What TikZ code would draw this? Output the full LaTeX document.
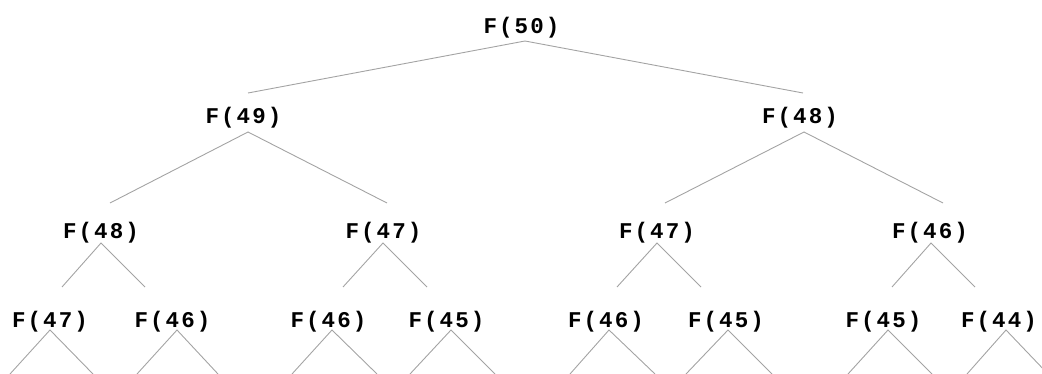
\documentclass[tikz,border=0pt]{standalone}
\usepackage{fontspec}
\usetikzlibrary{calc}

\newfontfamily\callfont{Liberation Mono}

% Labels are set in bold typewriter with a fixed, wide cell per character
\newlength\cellw
\setlength\cellw{15.6pt}
\makeatletter
\def\spacedtext#1{\spaced@i#1\relax}
\def\spaced@i#1{\ifx#1\relax\else\makebox[\cellw]{#1}\expandafter\spaced@i\fi}
\makeatother

\tikzset{
  call/.style={font={\callfont\bfseries\fontsize{22.5pt}{22.5pt}\selectfont},
               inner sep=0pt, anchor=base, text=black},
  link/.style={draw=black!36, line width=0.9pt},
}

% #1 name, #2 label, (#3,#4) text centre on baseline, (#5,#6) offset of the
% point below the label where the two child branches start
\newcommand\callnode[6]{%
  \node[call] (#1) at (#3,#4) {\spacedtext{#2}};
  \coordinate (#1-s) at ($(#1.base)+(#5,#6)$);}

\begin{document}
\begin{tikzpicture}[x=1pt,y=-1pt]
  \useasboundingbox (0,0) rectangle (1042,374);

  % level 0
  \callnode{f50}{F(50)}{521.5}{33.5}{3.5}{7.5}
  % level 1
  \callnode{f49}{F(49)}{243.5}{124}{4.5}{8}
  \callnode{f48}{F(48)}{800}{124}{4}{8}
  % level 2
  \callnode{g48}{F(48)}{101}{238.5}{0}{4.5}
  \callnode{g47}{F(47)}{383.5}{238.5}{-0.5}{4.5}
  \callnode{g47b}{F(47)}{657}{238.5}{0}{4.5}
  \callnode{g46}{F(46)}{930}{238.5}{1}{4.5}
  % level 3
  \callnode{h47}{F(47)}{50}{327}{0}{3}
  \callnode{h46}{F(46)}{172.5}{327}{4.5}{3}
  \callnode{h46b}{F(46)}{328.5}{327}{3.5}{3}
  \callnode{h45}{F(45)}{446.5}{327}{4.5}{3}
  \callnode{h46c}{F(46)}{606}{327}{3}{3}
  \callnode{h45b}{F(45)}{726}{327}{2}{3}
  \callnode{h45c}{F(45)}{883.5}{327}{4.5}{3}
  \callnode{h44}{F(44)}{999}{327}{7}{3}

  % upper ends of the branches, just above each child label
  \coordinate (f49-t) at ($(f49.base)+(4.5,-31)$);
  \coordinate (f48-t) at ($(f48.base)+(3,-31)$);
  \coordinate (g48-t) at ($(g48.base)+(9,-35.5)$);
  \coordinate (g47-t) at ($(g47.base)+(3.5,-35.5)$);
  \coordinate (g47b-t) at ($(g47b.base)+(8,-35.5)$);
  \coordinate (g46-t) at ($(g46.base)+(13,-35.5)$);
  \coordinate (h47-t) at ($(h47.base)+(12,-40)$);
  \coordinate (h46-t) at ($(h46.base)+(-27.5,-40)$);
  \coordinate (h46b-t) at ($(h46b.base)+(14.5,-40)$);
  \coordinate (h45-t) at ($(h45.base)+(-19.5,-40)$);
  \coordinate (h46c-t) at ($(h46c.base)+(11,-40)$);
  \coordinate (h45b-t) at ($(h45b.base)+(-25,-40)$);
  \coordinate (h45c-t) at ($(h45c.base)+(8.5,-40)$);
  \coordinate (h44-t) at ($(h44.base)+(-24,-40)$);

  % branches leaving the bottom edge below the last row
  \coordinate (b1) at (10,374);   \coordinate (b2) at (93,374);
  \coordinate (b3) at (137,374);  \coordinate (b4) at (218,374);
  \coordinate (b5) at (292,374);  \coordinate (b6) at (377,374);
  \coordinate (b7) at (410,374);  \coordinate (b8) at (495,374);
  \coordinate (b9) at (570,374);  \coordinate (b10) at (655,374);
  \coordinate (b11) at (686,374); \coordinate (b12) at (772,374);
  \coordinate (b13) at (848,374); \coordinate (b14) at (932,374);
  \coordinate (b15) at (967,374); \coordinate (b16) at (1048,374);

  % call tree
  \draw[link] (f49-t) -- (f50-s) -- (f48-t);
  \draw[link] (g48-t) -- (f49-s) -- (g47-t);
  \draw[link] (g47b-t) -- (f48-s) -- (g46-t);
  \draw[link] (h47-t) -- (g48-s) -- (h46-t);
  \draw[link] (h46b-t) -- (g47-s) -- (h45-t);
  \draw[link] (h46c-t) -- (g47b-s) -- (h45b-t);
  \draw[link] (h45c-t) -- (g46-s) -- (h44-t);
  \draw[link] (b1) -- (h47-s) -- (b2);
  \draw[link] (b3) -- (h46-s) -- (b4);
  \draw[link] (b5) -- (h46b-s) -- (b6);
  \draw[link] (b7) -- (h45-s) -- (b8);
  \draw[link] (b9) -- (h46c-s) -- (b10);
  \draw[link] (b11) -- (h45b-s) -- (b12);
  \draw[link] (b13) -- (h45c-s) -- (b14);
  \draw[link] (b15) -- (h44-s) -- (b16);
\end{tikzpicture}
\end{document}
